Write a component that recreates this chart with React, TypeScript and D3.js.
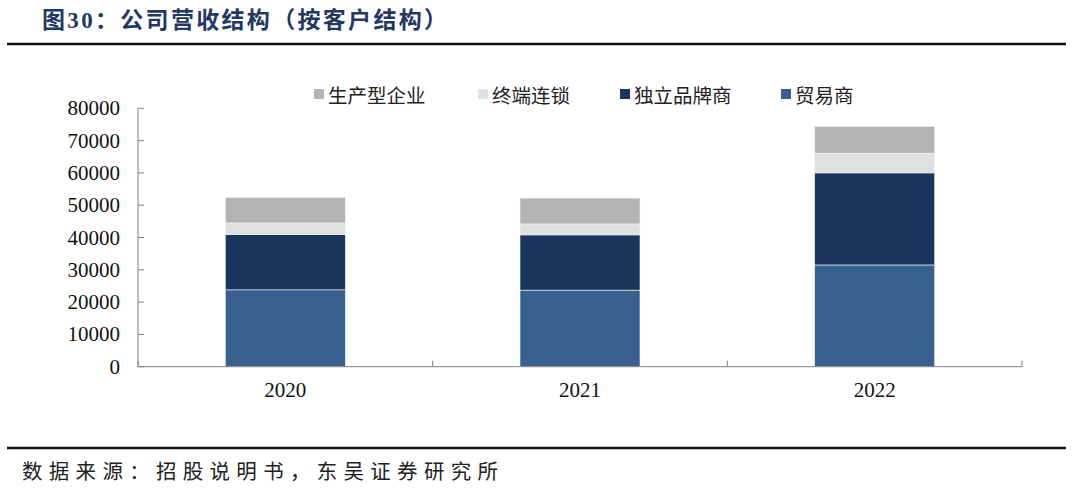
import React from "react";
import * as d3 from "d3";

const categories = ["2020", "2021", "2022"];
const seriesNames = ["贸易商", "独立品牌商", "终端连锁", "生产型企业"];
const trade = [23800, 23700, 31500];
const brand = [17100, 17100, 28500];
const terminal = [3600, 3400, 6100];
const production = [7900, 8000, 8300];
const yTicks = [0, 10000, 20000, 30000, 40000, 50000, 60000, 70000, 80000];
const legendOrder = ["生产型企业", "终端连锁", "独立品牌商", "贸易商"];
const colors: Record<string, string> = {
  "贸易商": "#386090",
  "独立品牌商": "#19375c",
  "终端连锁": "#e0e0e0",
  "生产型企业": "#b4b4b4",
};

const W = 1080;
const H = 492;
const left = 138;
const right = 1022;
const top = 108.3;
const bottom = 366.7;

export default function App() {
  const rows = categories.map((c, i) => ({
    cat: c,
    "贸易商": trade[i],
    "独立品牌商": brand[i],
    "终端连锁": terminal[i],
    "生产型企业": production[i],
  }));
  const stack = d3.stack<any>().keys(seriesNames)(rows);
  const x = d3.scaleBand().domain(categories).range([left, right]);
  const y = d3.scaleLinear().domain([0, 80000]).range([bottom, top]);
  const barW = 120;
  const serif = "'Liberation Serif', 'Times New Roman', 'Noto Sans CJK SC', serif";
  const cjkSans = "'Noto Sans CJK SC', 'Microsoft YaHei', sans-serif";
  const legendX = [314, 478, 620, 781];

  return (
    <svg
      width={W}
      height={H}
      style={{ position: "absolute", left: 0, top: 0, background: "#fff" }}
    >
      {/* Title */}
      <text
        x={42}
        y={28}
        fontFamily={serif}
        fontWeight="bold"
        fontSize={23}
        fill="#1f3864"
        textLength={405}
        lengthAdjust="spacing"
      >
        图30：公司营收结构（按客户结构）
      </text>
      <line x1={7} x2={1066} y1={44} y2={44} stroke="#111" strokeWidth={2.5} />

      {/* Legend */}
      {legendOrder.map((name, i) => (
        <g key={name}>
          <rect x={legendX[i]} y={89} width={10} height={10} fill={colors[name]} />
          <text
            x={legendX[i] + 14}
            y={94}
            dominantBaseline="central"
            fontFamily={cjkSans}
            fontSize={19.5}
            fill="#222"
          >
            {name}
          </text>
        </g>
      ))}

      {/* Bars */}
      {stack.map((s) => (
        <g key={s.key}>
          {s.map((d, i) => (
            <rect
              key={i}
              x={(x(categories[i]) as number) + x.bandwidth() / 2 - barW / 2}
              y={y(d[1])}
              width={barW}
              height={y(d[0]) - y(d[1])}
              fill={colors[s.key as string]}
              stroke="#eef2f7"
              strokeWidth={0.6}
            />
          ))}
        </g>
      ))}

      {/* Y axis */}
      <line x1={left} x2={left} y1={top} y2={bottom} stroke="#808080" strokeWidth={1} />
      {yTicks.map((t) => (
        <g key={t}>
          <line x1={left} x2={left + 6} y1={y(t)} y2={y(t)} stroke="#808080" strokeWidth={1} />
          <text
            x={120}
            y={y(t)}
            textAnchor="end"
            dominantBaseline="central"
            fontFamily={serif}
            fontSize={21}
            fill="#111"
          >
            {t}
          </text>
        </g>
      ))}

      {/* X axis */}
      <line x1={left} x2={right} y1={bottom} y2={bottom} stroke="#808080" strokeWidth={1} />
      {[...categories.map((c) => x(c) as number), right].map((px, i) => (
        <line key={i} x1={px} x2={px} y1={bottom} y2={bottom - 6} stroke="#808080" strokeWidth={1} />
      ))}
      {categories.map((c) => (
        <text
          key={c}
          x={(x(c) as number) + x.bandwidth() / 2}
          y={390}
          textAnchor="middle"
          dominantBaseline="central"
          fontFamily={serif}
          fontSize={21}
          fill="#111"
        >
          {c}
        </text>
      ))}

      {/* Footer */}
      <line x1={7} x2={1066} y1={448} y2={448} stroke="#111" strokeWidth={2.5} />
      <text
        x={22}
        y={472}
        dominantBaseline="central"
        fontFamily={serif}
        fontSize={20.5}
        fill="#222"
        textLength={476}
        lengthAdjust="spacing"
      >
        数据来源：招股说明书，东吴证券研究所
      </text>
    </svg>
  );
}
